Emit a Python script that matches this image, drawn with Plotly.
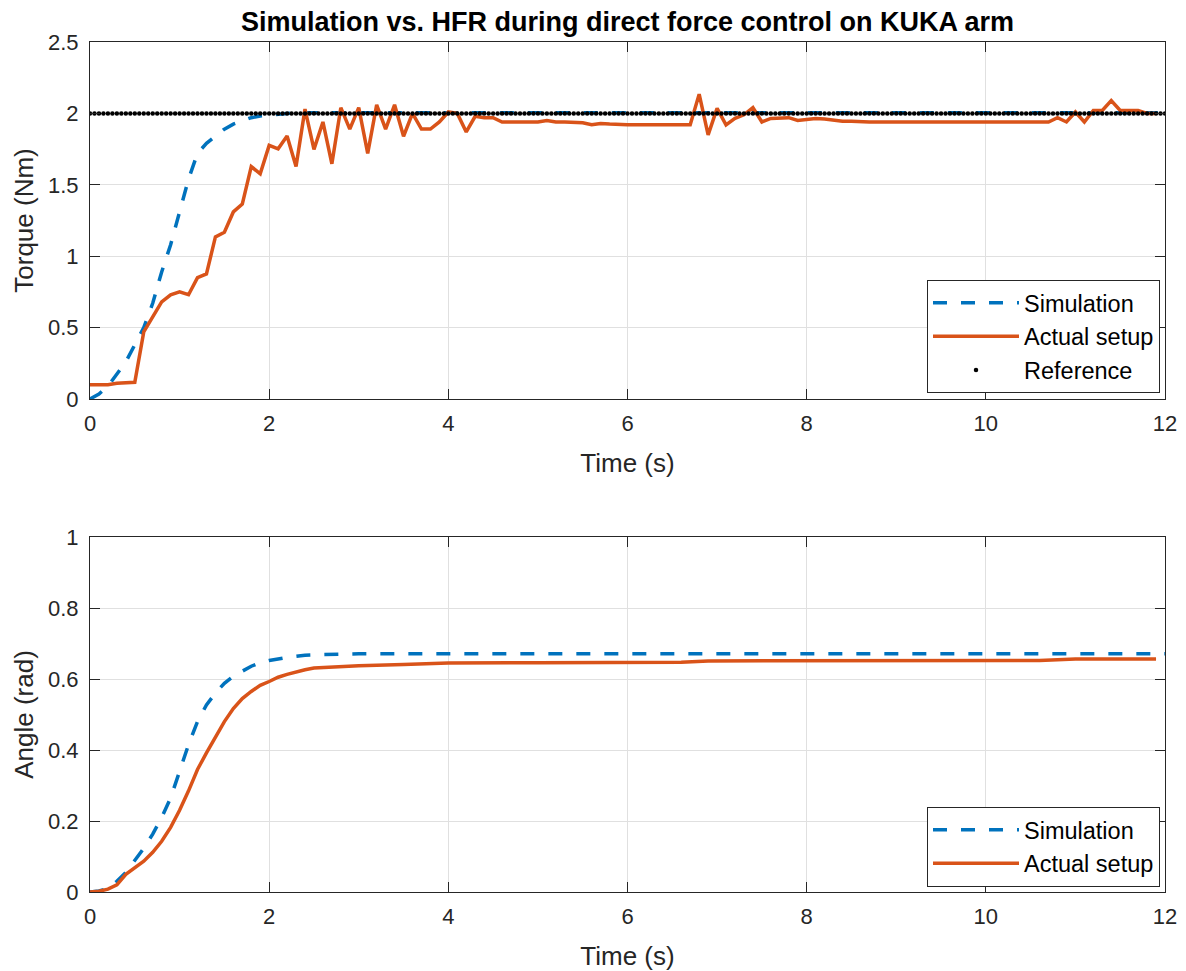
import numpy as np
import plotly.graph_objects as go

# ---- data -----------------------------------------------------------------
# Measured torque on the robot, sampled every 0.1 s (0 .. 11.9 s)
t_torque_act = np.round(np.arange(0, 120) * 0.1, 1)
torque_act = [
    0.10, 0.10, 0.10, 0.11, 0.115, 0.117, 0.47, 0.58, 0.68, 0.73,
    0.75, 0.73, 0.85, 0.876, 1.135, 1.168, 1.31, 1.365, 1.628, 1.577,
    1.776, 1.752, 1.841, 1.628, 2.03, 1.748, 1.94, 1.647, 2.04, 1.89,
    2.04, 1.72, 2.06, 1.89, 2.06, 1.84, 2.00, 1.89, 1.89, 1.94,
    2.01, 2.00, 1.87, 1.98, 1.97, 1.97, 1.94, 1.94, 1.94, 1.94,
    1.94, 1.95, 1.94, 1.94, 1.935, 1.935, 1.92, 1.93, 1.925, 1.92,
    1.92, 1.92, 1.92, 1.92, 1.92, 1.92, 1.92, 1.92,
    2.135, 1.85, 2.035, 1.92, 1.965, 1.99, 2.04, 1.94, 1.965, 1.97,
    1.97, 1.95, 1.96, 1.965, 1.96, 1.95, 1.945, 1.945,
    1.94, 1.94, 1.94, 1.94, 1.94, 1.94, 1.94, 1.94, 1.94, 1.94, 1.94,
    1.94, 1.94, 1.94, 1.94, 1.94, 1.94, 1.94, 1.94, 1.94, 1.94, 1.94,
    1.97, 1.94, 2.01, 1.94, 2.02, 2.02, 2.09, 2.02, 2.02, 2.02, 2.00, 2.00,
]

# Simulated torque response
t_torque_sim = [0.0, 0.1, 0.2, 0.3, 0.4, 0.5, 0.6, 0.7, 0.8, 0.9,
                1.0, 1.1, 1.2, 1.3, 1.4, 1.5, 1.6, 1.7, 1.8, 1.9,
                2.0, 2.1, 2.2, 2.3, 2.4, 3.0, 4.0, 6.0, 8.0, 10.0, 12.0]
torque_sim = [0.0, 0.035, 0.09, 0.17, 0.26, 0.38, 0.50, 0.67, 0.89, 1.08,
              1.31, 1.54, 1.72, 1.79, 1.84, 1.89, 1.925, 1.95, 1.97, 1.982,
              1.99, 1.996, 2.0, 2.003, 2.005, 2.005, 2.005, 2.005, 2.005, 2.005, 2.005]

# Torque set-point
torque_ref_level = 2.0
t_ref = np.round(np.arange(0, 241) * 0.05, 2)
torque_ref = [torque_ref_level] * len(t_ref)

# Joint angle, simulation
t_angle_sim = [0.0, 0.1, 0.2, 0.3, 0.4, 0.5, 0.6, 0.7, 0.8, 0.9,
               1.0, 1.1, 1.2, 1.3, 1.4, 1.5, 1.6, 1.7, 1.8, 1.9,
               2.0, 2.2, 2.4, 2.6, 3.0, 4.0, 6.0, 8.0, 10.0, 12.0]
angle_sim = [0.0, 0.003, 0.01, 0.03, 0.055, 0.09, 0.123, 0.163, 0.21, 0.265,
             0.34, 0.415, 0.48, 0.527, 0.56, 0.588, 0.608, 0.623, 0.636, 0.646,
             0.652, 0.661, 0.667, 0.669, 0.671, 0.671, 0.671, 0.671, 0.671, 0.671]

# Joint angle, actual setup
t_angle_act = [0.0, 0.1, 0.2, 0.3, 0.4, 0.5, 0.6, 0.7, 0.8, 0.9,
               1.0, 1.1, 1.2, 1.3, 1.4, 1.5, 1.6, 1.7, 1.8, 1.9,
               2.0, 2.1, 2.2, 2.3, 2.4, 2.5, 2.7, 3.0, 3.5, 4.0,
               5.0, 6.6, 6.9, 10.6, 11.0, 11.9]
angle_act = [0.0, 0.002, 0.008, 0.02, 0.05, 0.068, 0.087, 0.112, 0.143, 0.182,
             0.23, 0.285, 0.345, 0.392, 0.437, 0.48, 0.517, 0.545, 0.565, 0.582,
             0.593, 0.605, 0.613, 0.62, 0.626, 0.631, 0.634, 0.637, 0.641, 0.645,
             0.646, 0.647, 0.651, 0.652, 0.656, 0.656]

x_ticks = [0, 2, 4, 6, 8, 10, 12]
torque_ticks = [0, 0.5, 1, 1.5, 2, 2.5]
torque_tick_text = ["0", "0.5", "1", "1.5", "2", "2.5"]
angle_ticks = [0, 0.2, 0.4, 0.6, 0.8, 1]
angle_tick_text = ["0", "0.2", "0.4", "0.6", "0.8", "1"]

# ---- styling --------------------------------------------------------------
BLUE = "#0072BD"
ORANGE = "#D95319"
AXIS = "#262626"
GRID = "#e0e0e0"
FONT = "Liberation Sans"
W, H = 1186, 971

fig = go.Figure()

fig.add_trace(go.Scatter(x=t_torque_sim, y=torque_sim, mode="lines", name="Simulation",
                         line=dict(color=BLUE, width=3.5, dash="14px,14px"),
                         xaxis="x", yaxis="y", legend="legend"))
fig.add_trace(go.Scatter(x=t_torque_act, y=torque_act, mode="lines", name="Actual setup",
                         line=dict(color=ORANGE, width=3.5),
                         xaxis="x", yaxis="y", legend="legend"))
fig.add_trace(go.Scatter(x=t_ref, y=torque_ref, mode="markers", name="Reference",
                         marker=dict(color="black", size=4.5),
                         xaxis="x", yaxis="y", legend="legend"))

fig.add_trace(go.Scatter(x=t_angle_sim, y=angle_sim, mode="lines", name="Simulation",
                         line=dict(color=BLUE, width=3.5, dash="14px,14px"),
                         xaxis="x2", yaxis="y2", legend="legend2"))
fig.add_trace(go.Scatter(x=t_angle_act, y=angle_act, mode="lines", name="Actual setup",
                         line=dict(color=ORANGE, width=3.5),
                         xaxis="x2", yaxis="y2", legend="legend2"))

# plot areas in pixels: left 90 .. right 1165; top panel 42..399, bottom 537..892
x_dom = [90 / W, 1165 / W]
top_dom = [(H - 399) / H, (H - 42) / H]
bot_dom = [(H - 892) / H, (H - 537) / H]

axis_common = dict(
    automargin=False,
    showline=True, linecolor=AXIS, linewidth=1, mirror="ticks",
    ticks="inside", ticklen=10, tickcolor=AXIS, tickwidth=1,
    showgrid=True, gridcolor=GRID, gridwidth=1, zeroline=False,
    tickfont=dict(family=FONT, size=22, color=AXIS),
    title_font=dict(family=FONT, size=26, color=AXIS),
)
x_common = dict(axis_common, ticklabelstandoff=5)
y_common = dict(axis_common, ticklabelstandoff=6)

legend_common = dict(xanchor="right", yanchor="bottom",
                     bgcolor="white", bordercolor=AXIS, borderwidth=1,
                     font=dict(family=FONT, size=23.5, color="black"),
                     itemwidth=86, tracegroupgap=0)

fig.update_layout(
    width=W, height=H,
    margin=dict(l=0, r=0, t=0, b=0),
    paper_bgcolor="white", plot_bgcolor="white",
    font=dict(family=FONT, color=AXIS),
    xaxis=dict(domain=x_dom, anchor="y", range=[0, 12], tickvals=x_ticks,
               title=dict(text="Time (s)", standoff=18), **x_common),
    yaxis=dict(domain=top_dom, anchor="x", range=[0, 2.5], tickvals=torque_ticks,
               ticktext=torque_tick_text,
               title=dict(text="Torque (Nm)", standoff=6), **y_common),
    xaxis2=dict(domain=x_dom, anchor="y2", range=[0, 12], tickvals=x_ticks,
                title=dict(text="Time (s)", standoff=18), **x_common),
    yaxis2=dict(domain=bot_dom, anchor="x2", range=[0, 1], tickvals=angle_ticks,
                ticktext=angle_tick_text,
                title=dict(text="Angle (rad)", standoff=6), **y_common),
    legend=dict(x=1160 / W, y=(H - 393) / H, **legend_common),
    legend2=dict(x=1160 / W, y=(H - 887) / H, **legend_common),
    annotations=[dict(text="<b>Simulation vs. HFR during direct force control on KUKA arm</b>",
                      x=(90 + 1165) / 2 / W, y=(H - 22) / H, xref="paper", yref="paper",
                      xanchor="center", yanchor="middle", showarrow=False,
                      font=dict(family=FONT, size=27, color="black"))],
)

fig.write_html("out.html")
